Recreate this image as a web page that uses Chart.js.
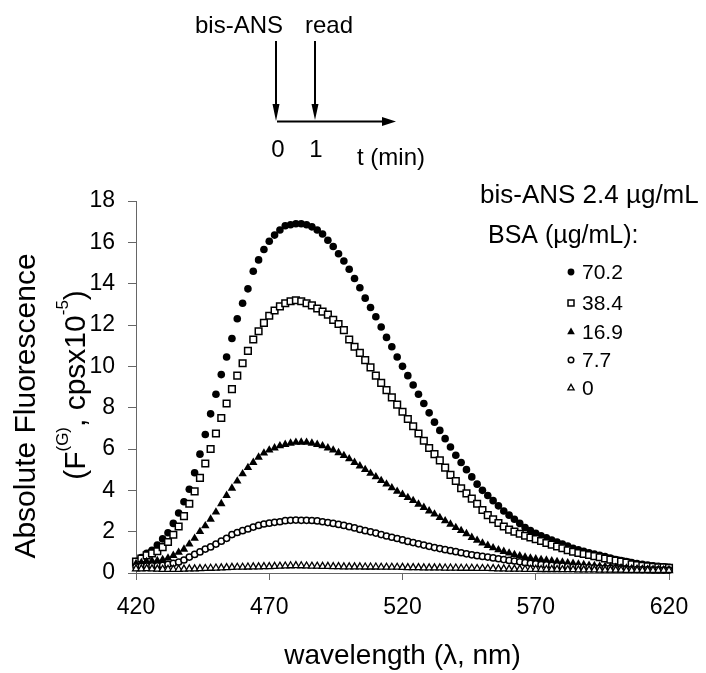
<!DOCTYPE html>
<html><head><meta charset="utf-8">
<script src="https://cdn.jsdelivr.net/npm/chart.js@4/dist/chart.umd.min.js"></script>
<style>html,body{margin:0;padding:0;background:#fff}#wrap{width:706px;height:673px}</style>
</head><body><div id="wrap"><canvas id="c" width="706" height="673"></canvas></div>
<script>
const wavelengths = [420,422,424,426,428,430,432,434,436,438,
 440,442,444,446,448,450,452,454,456,458,
 460,462,464,466,468,470,472,474,476,478,
 480,482,484,486,488,490,492,494,496,498,
 500,502,504,506,508,510,512,514,516,518,
 520,522,524,526,528,530,532,534,536,538,
 540,542,544,546,548,550,552,554,556,558,
 560,562,564,566,568,570,572,574,576,578,
 580,582,584,586,588,590,592,594,596,598,
 600,602,604,606,608,610,612,614,616,618,620];
const bsa70_2 = [0.55,0.75,0.95,1.1,1.35,1.65,1.95,2.4,2.9,3.45,
 4.05,4.85,5.75,6.7,7.7,8.65,9.6,10.45,11.35,12.3,
 13.05,13.75,14.6,15.15,15.65,16.05,16.35,16.6,16.8,16.85,
 16.9,16.9,16.85,16.75,16.6,16.4,16.1,15.8,15.45,15.1,
 14.7,14.25,13.8,13.3,12.85,12.4,11.9,11.4,10.95,10.45,
 10.0,9.55,9.1,8.65,8.2,7.75,7.3,6.9,6.5,6.1,
 5.7,5.35,5.0,4.65,4.3,4.0,3.75,3.5,3.25,3.0,
 2.8,2.6,2.4,2.2,2.05,1.92,1.8,1.7,1.6,1.5,
 1.4,1.3,1.2,1.12,1.05,0.98,0.92,0.86,0.8,0.72,
 0.65,0.6,0.55,0.5,0.46,0.42,0.38,0.35,0.32,0.3,0.28];
const bsa38_4 = [0.55,0.7,0.85,0.95,1.05,1.25,1.5,1.85,2.25,2.75,
 3.35,3.95,4.6,5.3,6.0,6.75,7.5,8.2,8.9,9.55,
 10.15,10.75,11.3,11.7,12.1,12.45,12.7,12.9,13.05,13.15,
 13.2,13.15,13.05,12.95,12.8,12.65,12.5,12.25,12.05,11.75,
 11.3,10.95,10.65,10.3,9.95,9.55,9.2,8.85,8.5,8.15,
 7.8,7.45,7.1,6.75,6.4,6.05,5.75,5.45,5.1,4.75,
 4.45,4.1,3.85,3.6,3.35,3.05,2.8,2.6,2.42,2.25,
 2.1,2.0,1.9,1.8,1.72,1.64,1.55,1.45,1.37,1.28,
 1.2,1.1,1.03,0.97,0.92,0.87,0.82,0.76,0.7,0.65,
 0.6,0.55,0.5,0.42,0.38,0.35,0.32,0.3,0.28,0.27,0.25];
const bsa16_9 = [0.45,0.5,0.55,0.58,0.6,0.65,0.72,0.85,1.0,1.15,
 1.4,1.68,2.0,2.28,2.6,2.95,3.35,3.75,4.1,4.45,
 4.8,5.1,5.35,5.6,5.8,5.95,6.05,6.15,6.22,6.28,
 6.32,6.33,6.32,6.28,6.22,6.15,6.05,5.95,5.82,5.68,
 5.52,5.35,5.18,5.0,4.82,4.65,4.47,4.3,4.12,3.95,
 3.8,3.65,3.5,3.33,3.17,3.0,2.85,2.68,2.52,2.36,
 2.2,2.05,1.9,1.72,1.58,1.45,1.33,1.22,1.12,1.04,
 0.96,0.89,0.83,0.77,0.72,0.68,0.65,0.62,0.58,0.55,
 0.52,0.49,0.46,0.43,0.4,0.37,0.35,0.33,0.31,0.29,
 0.27,0.25,0.23,0.21,0.2,0.19,0.18,0.17,0.16,0.15,0.15];
const bsa7_7 = [0.3,0.32,0.33,0.34,0.35,0.37,0.42,0.47,0.53,0.63,
 0.77,0.9,1.02,1.16,1.26,1.4,1.54,1.68,1.86,1.96,
 2.05,2.13,2.22,2.3,2.37,2.41,2.45,2.48,2.53,2.55,
 2.56,2.55,2.55,2.54,2.52,2.48,2.44,2.4,2.35,2.3,
 2.24,2.18,2.11,2.05,1.99,1.93,1.86,1.79,1.73,1.67,
 1.6,1.53,1.47,1.41,1.35,1.29,1.23,1.18,1.13,1.08,
 1.03,0.98,0.93,0.88,0.84,0.8,0.77,0.73,0.69,0.65,
 0.61,0.58,0.54,0.5,0.47,0.44,0.41,0.39,0.37,0.35,
 0.33,0.31,0.29,0.28,0.27,0.26,0.25,0.24,0.23,0.22,
 0.21,0.2,0.19,0.18,0.17,0.16,0.16,0.15,0.15,0.14,0.14];
const bsa0 = [0.2,0.2,0.21,0.2,0.19,0.18,0.18,0.18,0.18,0.19,
 0.2,0.2,0.21,0.22,0.23,0.24,0.25,0.26,0.27,0.28,
 0.28,0.29,0.3,0.3,0.31,0.31,0.32,0.33,0.34,0.35,
 0.36,0.35,0.34,0.33,0.33,0.32,0.32,0.31,0.31,0.3,
 0.3,0.3,0.3,0.29,0.29,0.29,0.28,0.28,0.28,0.28,
 0.27,0.26,0.26,0.26,0.25,0.25,0.25,0.25,0.24,0.24,
 0.24,0.23,0.23,0.23,0.22,0.22,0.22,0.21,0.2,0.2,
 0.19,0.19,0.19,0.18,0.18,0.18,0.17,0.17,0.17,0.17,
 0.16,0.16,0.16,0.15,0.15,0.15,0.15,0.14,0.14,0.14,
 0.14,0.14,0.13,0.13,0.13,0.13,0.13,0.12,0.12,0.12,0.12];
const seriesLabels = ['70.2','38.4','16.9','7.7','0'];
const xTicks = [420,470,520,570,620];
const yTicks = [0,2,4,6,8,10,12,14,16,18];

const FONT = '"Liberation Sans", Arial, Helvetica, sans-serif';
const styles = [
  {pointStyle:'circle', radius:3.8, bg:'#000', bw:0},
  {pointStyle:'rect', radius:4.7, bg:'#fff', bw:1.5},
  {pointStyle:'triangle', radius:4.9, bg:'#000', bw:0},
  {pointStyle:'circle', radius:3.1, bg:'#fff', bw:1.5},
  {pointStyle:'triangle', radius:4.0, bg:'#fff', bw:1.3}
];
const seriesValues = [bsa70_2, bsa38_4, bsa16_9, bsa7_7, bsa0];

const datasets = seriesValues.map((vals, i) => ({
  label: seriesLabels[i],
  data: wavelengths.map((w, j) => ({x: w, y: vals[j]})),
  showLine: false,
  pointStyle: styles[i].pointStyle,
  pointRadius: styles[i].radius,
  pointBackgroundColor: styles[i].bg,
  pointBorderColor: '#000',
  pointBorderWidth: styles[i].bw,
  order: 5 - i,
  clip: false
}));

function drawMarker(ctx, st, x, y) {
  ctx.save();
  ctx.fillStyle = st.bg; ctx.strokeStyle = '#000'; ctx.lineWidth = st.bw;
  ctx.beginPath();
  const r = st.radius * 0.9;
  if (st.pointStyle === 'circle') {
    ctx.arc(x, y, r, 0, Math.PI * 2);
  } else if (st.pointStyle === 'rect') {
    const s = r * Math.SQRT1_2;
    ctx.rect(x - s, y - s, 2 * s, 2 * s);
  } else {
    let a = 0;
    ctx.moveTo(x + Math.sin(a) * r, y - Math.cos(a) * r);
    a += 2 * Math.PI / 3;
    ctx.lineTo(x + Math.sin(a) * r, y - Math.cos(a) * r);
    a += 2 * Math.PI / 3;
    ctx.lineTo(x + Math.sin(a) * r, y - Math.cos(a) * r);
    ctx.closePath();
  }
  ctx.fill();
  if (st.bw > 0) ctx.stroke();
  ctx.restore();
}

const annot = {
  id: 'annot',
  afterDraw(chart) {
    const ctx = chart.ctx;
    ctx.save();
    ctx.fillStyle = '#000'; ctx.strokeStyle = '#000';
    // timeline diagram
    ctx.font = '24px ' + FONT;
    ctx.textBaseline = 'alphabetic';
    ctx.textAlign = 'right';
    ctx.fillText('bis-ANS', 283, 33);
    ctx.textAlign = 'left';
    ctx.fillText('read', 305, 33);
    ctx.textAlign = 'center';
    ctx.fillText('0', 278, 157);
    ctx.fillText('1', 316, 157);
    ctx.textAlign = 'left';
    ctx.fillText('t (min)', 357, 165);
    ctx.lineWidth = 2;
    ctx.beginPath();
    ctx.moveTo(276, 41); ctx.lineTo(276, 106);
    ctx.moveTo(315, 41); ctx.lineTo(315, 106);
    ctx.moveTo(277, 121.5); ctx.lineTo(385, 121.5);
    ctx.stroke();
    ctx.beginPath();
    ctx.moveTo(272.5, 104); ctx.lineTo(279.5, 104); ctx.lineTo(276, 121); ctx.closePath();
    ctx.moveTo(311.5, 104); ctx.lineTo(318.5, 104); ctx.lineTo(315, 120); ctx.closePath();
    ctx.moveTo(382, 117); ctx.lineTo(396, 121.5); ctx.lineTo(382, 126); ctx.closePath();
    ctx.fill();
    // legend
    ctx.textAlign = 'left';
    ctx.font = '26px ' + FONT;
    ctx.fillText('bis-ANS 2.4 \u00b5g/mL', 480, 203);
    ctx.font = '25px ' + FONT;
    ctx.fillText('BSA (\u00b5g/mL):', 488, 243);
    const rows = [272, 303, 332, 360, 388];
    ctx.font = '21px ' + FONT;
    ctx.textBaseline = 'middle';
    seriesLabels.forEach((lab, i) => {
      drawMarker(ctx, styles[i], 571, rows[i]);
      ctx.fillStyle = '#000';
      ctx.fillText(lab, 582, rows[i] + 1);
    });
    // y-axis title
    ctx.textBaseline = 'alphabetic';
    ctx.save();
    ctx.translate(35, 406);
    ctx.rotate(-Math.PI / 2);
    ctx.textAlign = 'center';
    ctx.font = '30px ' + FONT;
    ctx.fillText('Absolute Fluorescence', 0, 0);
    ctx.restore();
    ctx.save();
    ctx.translate(85, 385);
    ctx.rotate(-Math.PI / 2);
    ctx.textAlign = 'left';
    const segs = [['(F', 0], ['(G)', 1], [', cpsx10', 0], ['-5', 1], [')', 0]];
    const fNorm = '30px ' + FONT, fSup = '17px ' + FONT;
    let total = 0;
    segs.forEach(s => { ctx.font = s[1] ? fSup : fNorm; total += ctx.measureText(s[0]).width; });
    let xx = -total / 2;
    segs.forEach(s => {
      ctx.font = s[1] ? fSup : fNorm;
      ctx.fillText(s[0], xx, s[1] ? -17 : 0);
      xx += ctx.measureText(s[0]).width;
    });
    ctx.restore();
    ctx.restore();
  }
};

new Chart(document.getElementById('c'), {
  type: 'scatter',
  data: { datasets },
  options: {
    responsive: false,
    animation: false,
    devicePixelRatio: 1,
    layout: { padding: { top: 201, right: 37, left: 0, bottom: 0 } },
    plugins: { legend: { display: false }, tooltip: { enabled: false } },
    scales: {
      x: {
        type: 'linear', min: 420, max: 620,
        afterBuildTicks: s => { s.ticks = xTicks.map(v => ({ value: v })); },
        afterFit: s => { s.height = 100; },
        ticks: { color: '#000', font: { family: FONT, size: 23 }, padding: 14, maxRotation: 0, autoSkip: false },
        grid: { display: true, drawOnChartArea: false, drawTicks: true, tickLength: 7, color: '#666' },
        border: { display: true, color: '#666', width: 1 },
        title: { display: true, text: 'wavelength (\u03bb, nm)', color: '#000', font: { family: FONT, size: 28 }, padding: { top: 0, bottom: 0 } }
      },
      y: {
        type: 'linear', min: 0, max: 18,
        afterBuildTicks: s => { s.ticks = yTicks.map(v => ({ value: v })); },
        afterFit: s => { s.width = 136; },
        ticks: { color: '#000', font: { family: FONT, size: 23 }, padding: 13, autoSkip: false },
        grid: { display: true, drawOnChartArea: false, drawTicks: true, tickLength: 8, color: '#666' },
        border: { display: true, color: '#666', width: 1 }
      }
    }
  },
  plugins: [annot]
});
</script>
</body></html>
